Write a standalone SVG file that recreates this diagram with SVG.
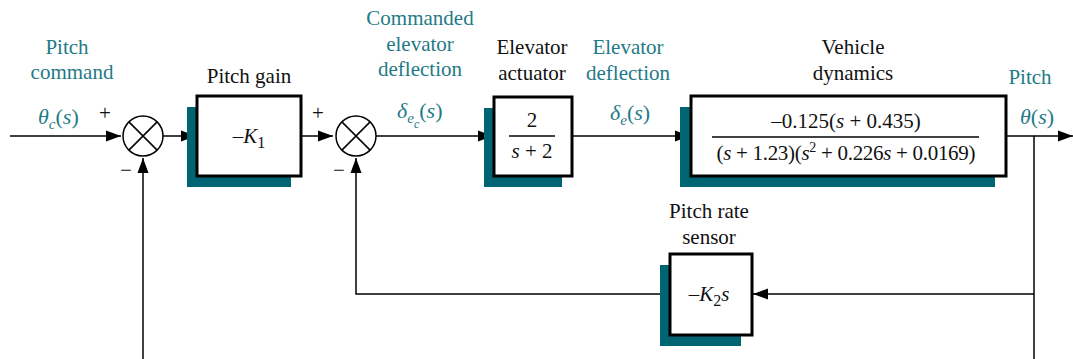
<svg xmlns="http://www.w3.org/2000/svg" width="1073" height="359" viewBox="0 0 1073 359">
<style>
text{font-family:'Liberation Serif',serif;font-size:21px;fill:#111}
.t{fill:#1F7A87}
.i{font-style:italic}
.m{font-size:22px}
.box{fill:#fff;stroke:#000;stroke-width:3}
.sh{fill:#006472}
.ln{fill:none;stroke:#000;stroke-width:1.5}
.sum{fill:#fff;stroke:#000;stroke-width:1.5}
</style>
<defs>
<marker id="ar" markerUnits="userSpaceOnUse" markerWidth="16" markerHeight="12" refX="15" refY="6" orient="auto">
<path d="M0,0.5 L15,6 L0,11.5 Z" fill="#000"/>
</marker>
</defs>

<g id="connectors">
<path class="ln" d="M10,136 H121" marker-end="url(#ar)"/>
<path class="ln" d="M163,136 H196" marker-end="url(#ar)"/>
<path class="ln" d="M301,136 H333" marker-end="url(#ar)"/>
<path class="ln" d="M376,136 H493" marker-end="url(#ar)"/>
<path class="ln" d="M572,136 H690" marker-end="url(#ar)"/>
<path class="ln" d="M1006,136 H1073" marker-end="url(#ar)"/>
<path class="ln" d="M1034,136 V359"/>
<path class="ln" d="M1034,294 H753" marker-end="url(#ar)"/>
<path class="ln" d="M670,294 H356 V158" marker-end="url(#ar)"/>
<path class="ln" d="M143,359 V158" marker-end="url(#ar)"/>
</g>

<g id="input-label">
<text class="t" x="67" y="54" text-anchor="middle">Pitch</text>
<text class="t" x="72" y="79" text-anchor="middle">command</text>
<text class="t m" x="38" y="124"><tspan class="i">θ</tspan><tspan class="i" font-size="15" dy="5">c</tspan><tspan dy="-5">(</tspan><tspan class="i">s</tspan>)</text>
</g>

<g id="sum1">
<circle class="sum" cx="143" cy="136" r="20"/>
<path class="ln" d="M128.9,121.9 L157.1,150.1 M157.1,121.9 L128.9,150.1"/>
<text x="105" y="120" font-size="18" text-anchor="middle">+</text>
<text x="126" y="177" font-size="18" text-anchor="middle">−</text>
</g>

<g id="pitch-gain">
<text x="249" y="83" text-anchor="middle">Pitch gain</text>
<rect class="sh" x="187" y="107" width="104" height="80"/>
<rect class="box" x="197" y="96" width="104" height="80"/>
<text x="249" y="143" text-anchor="middle">–<tspan class="i">K</tspan><tspan dy="5" font-size="16">1</tspan></text>
</g>

<g id="sum2">
<circle class="sum" cx="356" cy="136" r="20"/>
<path class="ln" d="M341.9,121.9 L370.1,150.1 M370.1,121.9 L341.9,150.1"/>
<text x="318" y="120" font-size="18" text-anchor="middle">+</text>
<text x="339" y="177" font-size="18" text-anchor="middle">−</text>
</g>

<g id="cmd-elev-label">
<text class="t" x="420" y="25" text-anchor="middle">Commanded</text>
<text class="t" x="420" y="51" text-anchor="middle">elevator</text>
<text class="t" x="420" y="76" text-anchor="middle">deflection</text>
<text class="t m" x="397" y="118"><tspan class="i">δ</tspan><tspan class="i" font-size="15" dy="5">e</tspan><tspan class="i" font-size="12" dy="5">c</tspan><tspan dy="-10">(</tspan><tspan class="i">s</tspan>)</text>
</g>

<g id="elevator-actuator">
<text x="532" y="54" text-anchor="middle">Elevator</text>
<text x="532" y="80" text-anchor="middle">actuator</text>
<rect class="sh" x="484" y="108" width="78" height="79"/>
<rect class="box" x="494" y="97" width="78" height="79"/>
<text x="532" y="127" text-anchor="middle">2</text>
<path class="ln" d="M509,136 H555"/>
<text x="532" y="158" text-anchor="middle"><tspan class="i">s</tspan> + 2</text>
</g>

<g id="elev-defl-label">
<text class="t" x="628" y="54" text-anchor="middle">Elevator</text>
<text class="t" x="628" y="80" text-anchor="middle">deflection</text>
<text class="t m" x="610" y="120"><tspan class="i">δ</tspan><tspan class="i" font-size="15" dy="5">e</tspan><tspan dy="-5">(</tspan><tspan class="i">s</tspan>)</text>
</g>

<g id="vehicle-dynamics">
<text x="853" y="54" text-anchor="middle">Vehicle</text>
<text x="853" y="80" text-anchor="middle">dynamics</text>
<rect class="sh" x="680" y="107" width="315" height="80"/>
<rect class="box" x="691" y="96" width="315" height="80"/>
<text x="846" y="128" text-anchor="middle">–0.125(<tspan class="i">s</tspan> + 0.435)</text>
<path class="ln" d="M712,137 H979"/>
<text x="846" y="160" text-anchor="middle" textLength="259">(<tspan class="i">s</tspan> + 1.23)(<tspan class="i">s</tspan><tspan font-size="14" dy="-8">2</tspan><tspan dy="8"> + 0.226</tspan><tspan class="i">s</tspan> + 0.0169)</text>
</g>

<g id="output-label">
<text class="t" x="1030" y="84" text-anchor="middle">Pitch</text>
<text class="t m" x="1020" y="124"><tspan class="i">θ</tspan>(<tspan class="i">s</tspan>)</text>
</g>

<g id="pitch-rate-sensor">
<text x="709" y="218" text-anchor="middle">Pitch rate</text>
<text x="709" y="244" text-anchor="middle">sensor</text>
<rect class="sh" x="660" y="265" width="81" height="81"/>
<rect class="box" x="670" y="254" width="82" height="81"/>
<text x="709" y="301" text-anchor="middle">–<tspan class="i">K</tspan><tspan dy="5" font-size="16">2</tspan><tspan class="i" dy="-5">s</tspan></text>
</g>
</svg>
